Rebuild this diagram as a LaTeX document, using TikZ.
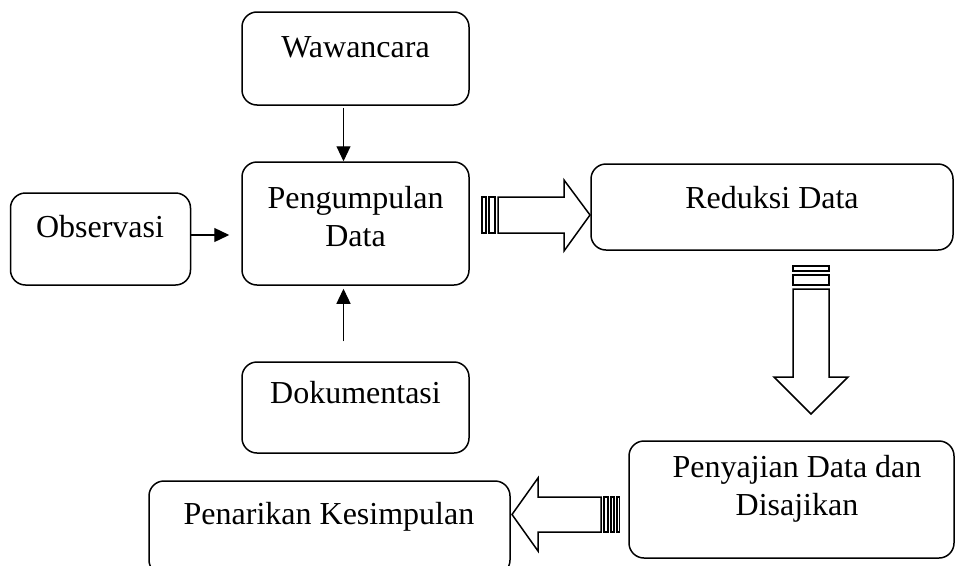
\documentclass[tikz,border=0pt]{standalone}
\usepackage{fontspec}
\setmainfont{Liberation Serif}
\usetikzlibrary{arrows.meta}
\begin{document}
\begin{tikzpicture}[x=1pt,y=-1pt,
  box/.style={draw,line width=1.5pt,rounded corners=15pt,inner sep=0pt},
  txt/.style={font=\fontsize{32}{38}\selectfont,align=center,inner sep=0pt},
  thin/.style={line width=1.3pt,-{Triangle[length=15pt,width=14pt]}},
  blockarrow/.style={draw,line width=1.5pt,fill=white,line join=miter},
  stripe/.style={draw,line width=1.1pt,fill=white}
]
\useasboundingbox (0,0) rectangle (955,565);
\clip (0,0) rectangle (955,565);
% boxes
\node[box,minimum width=227pt,minimum height=93pt] (waw) at (355.5,58.5) {};
\node[box,minimum width=227pt,minimum height=123pt] (peng) at (355.5,223.5) {};
\node[box,minimum width=180pt,minimum height=92pt] (obs) at (100.5,239) {};
\node[box,minimum width=362pt,minimum height=86pt] (red) at (772,207) {};
\node[box,minimum width=227pt,minimum height=91pt] (dok) at (355.5,407.5) {};
\node[box,minimum width=325pt,minimum height=117pt] (pen) at (791.5,499.5) {};
\node[box,minimum width=361pt,minimum height=94pt] (tar) at (329.5,528) {};
% texts
\node[txt] (wawt) at (355.5,47) {Wawancara};
\node[txt] (pengt) at (355.5,217) {Pengumpulan\\Data};
\node[txt] (obst) at (100,227) {Observasi};
\node[txt] (redt) at (772,198) {Reduksi Data};
\node[txt] (dokt) at (355.5,393) {Dokumentasi};
\node[txt] (pent) at (797,488.5) {Penyajian Data dan\\Disajikan};
\node[txt] (tart) at (329,517) {Penarikan Kesimpulan};
% thin arrows
\draw[thin,line width=1pt,shorten <=2pt] ([xshift=-12pt]waw.south) -- ([xshift=-12pt]peng.north);
\draw[thin,shorten >=12pt] ([yshift=4pt]obs.east) -- ([yshift=4pt]obs.east -| peng.west);
\draw[thin,shorten <=20pt,shorten >=3pt] ([xshift=-12pt]dok.north) -- ([xshift=-12pt]peng.south);
% striped block arrow right
\draw[stripe] (482,197) rectangle (486,233);
\draw[stripe] (489,197) rectangle (495,233);
\draw[blockarrow] (498,197) -- (564,197) -- (564,180) -- (590,215) -- (564,251) -- (564,233) -- (498,233) -- cycle;
% striped block arrow down
\draw[stripe] (793,266) rectangle (829,271);
\draw[stripe] (793,275) rectangle (829,285);
\draw[blockarrow] (793,289) -- (793,377) -- (774,377) -- (811,414) -- (848,377) -- (829,377) -- (829,289) -- cycle;
% striped block arrow left
\draw[stripe] (617,497) rectangle (619.5,532);
\draw[stripe] (611,497) rectangle (614,532);
\draw[stripe] (604,497) rectangle (608,532);
\draw[blockarrow] (601,497) -- (538,497) -- (538,478) -- (512,514.5) -- (538,551) -- (538,532) -- (601,532) -- cycle;
\end{tikzpicture}
\end{document}
